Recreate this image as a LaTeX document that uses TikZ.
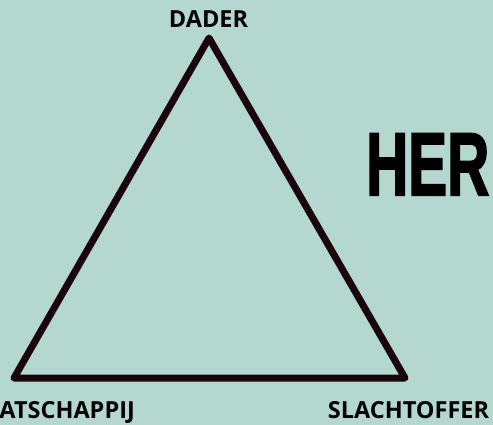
\documentclass[tikz,border=0pt]{standalone}
\usepackage{fontspec}
\setmainfont{Open Sans}
\newfontfamily\herfont[BoldFeatures={FakeBold=2.5}]{Liberation Sans}
\definecolor{bgteal}{RGB}{180,216,208}
\definecolor{inkdark}{RGB}{26,6,10}
\begin{document}
\begin{tikzpicture}[x=1pt,y=-1pt,
  lbl/.style={inner sep=0pt, font=\fontsize{23.5}{23.5}\selectfont\bfseries, text=black},
  edge/.style={draw=inkdark, line width=7pt, line join=round, line cap=round}]
\clip (0,0) rectangle (493,425);
\fill[bgteal] (0,0) rectangle (493,425);
\coordinate (top) at (209,38);
\coordinate (bl) at (14,378);
\coordinate (br) at (405,378);
\draw[edge] (top) -- (bl) -- (br) -- cycle;
\node[lbl, anchor=base] (dader) at (208.5,28) {DADER};
\node[lbl, anchor=base east] (maat) at (135,418) {ATSCHAPPIJ};
\node[lbl, anchor=base] (slacht) at (408.5,418) {SLACHTOFFER};
\node[inner sep=0pt, anchor=base west, text=black] (her) at (366,195)
  {\scalebox{0.655}[1]{\herfont\fontsize{89}{89}\selectfont\bfseries HER}};
\end{tikzpicture}
\end{document}
